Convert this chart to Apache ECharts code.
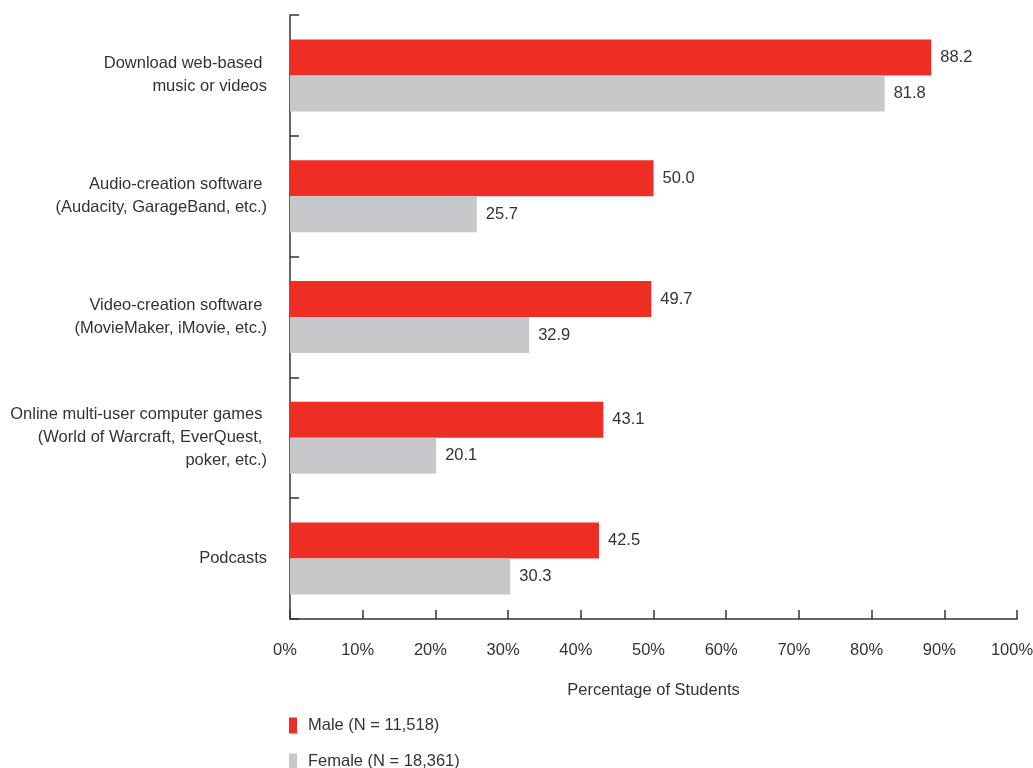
<!DOCTYPE html>
<html>
<head>
<meta charset="utf-8">
<title>Percentage of Students</title>
<script src="https://cdn.jsdelivr.net/npm/echarts@6/dist/echarts.min.js"></script>
<style>
  html, body { margin: 0; padding: 0; background: #fff; }
  #chart { width: 1033px; height: 768px; }
</style>
</head>
<body>
<div id="chart"></div>
<script>
// Activities, listed top to bottom
const categories = [
  'Download web-based \nmusic or videos',
  'Audio-creation software \n(Audacity, GarageBand, etc.)',
  'Video-creation software \n(MovieMaker, iMovie, etc.)',
  'Online multi-user computer games \n(World of Warcraft, EverQuest, \npoker, etc.)',
  'Podcasts'
];
const maleValues = [88.2, 50.0, 49.7, 43.1, 42.5];
const femaleValues = [81.8, 25.7, 32.9, 20.1, 30.3];
const seriesNames = ['Male (N = 11,518)', 'Female (N = 18,361)'];
const xTicks = [0, 10, 20, 30, 40, 50, 60, 70, 80, 90, 100];

const FONT = '"Liberation Sans Narrow", "Arial Narrow", "Liberation Sans", sans-serif';
const FS = 16.5;
const TEXT = '#333333';
const AXIS = '#333333';

const chart = echarts.init(document.getElementById('chart'), null, { renderer: 'canvas' });

const valueLabel = {
  show: true,
  position: 'right',
  distance: 9,
  color: TEXT,
  fontFamily: FONT,
  fontSize: FS,
  formatter: p => p.value.toFixed(1)
};

// one legend block per series, stacked below the axis title
const legendBlock = (name, top) => ({
  orient: 'vertical',
  left: 289,
  top: top,
  padding: 0,
  itemWidth: 8,
  itemHeight: 16,
  icon: 'rect',
  textStyle: { fontFamily: FONT, fontSize: FS, color: TEXT, padding: [0, 0, 0, 6] },
  data: [name]
});

chart.setOption({
  animation: false,
  textStyle: { fontFamily: FONT, color: TEXT },
  grid: { left: 290, right: 16, top: 15, bottom: 149, containLabel: false, outerBoundsMode: 'none' },
  legend: [
    legendBlock(seriesNames[0], 717),
    legendBlock(seriesNames[1], 753)
  ],
  xAxis: {
    type: 'value',
    min: xTicks[0],
    max: xTicks[xTicks.length - 1],
    interval: 10,
    name: 'Percentage of Students',
    nameLocation: 'middle',
    nameGap: 63,
    nameTextStyle: { fontFamily: FONT, fontSize: FS, color: TEXT },
    axisLine: { show: true, lineStyle: { color: AXIS, width: 1.5 } },
    axisTick: { show: true, inside: true, length: 9, lineStyle: { color: AXIS, width: 1.5 } },
    axisLabel: {
      color: TEXT, fontFamily: FONT, fontSize: FS, margin: 23,
      padding: [0, 10, 0, 0],
      formatter: v => v + '%'
    },
    splitLine: { show: false }
  },
  yAxis: {
    type: 'category',
    inverse: true,
    data: categories,
    axisLine: { show: true, lineStyle: { color: AXIS, width: 1.5 } },
    axisTick: { show: true, inside: true, length: 9, lineStyle: { color: AXIS, width: 1.5 } },
    axisLabel: {
      color: TEXT, fontFamily: FONT, fontSize: FS, lineHeight: 23, margin: 23, align: 'right'
    }
  },
  series: [
    {
      name: seriesNames[0],
      type: 'bar',
      data: maleValues,
      barWidth: 36,
      barGap: '0%',
      itemStyle: { color: '#EE2E24' },
      label: valueLabel
    },
    {
      name: seriesNames[1],
      type: 'bar',
      data: femaleValues,
      barWidth: 36,
      barGap: '0%',
      itemStyle: { color: '#C7C8CA' },
      label: valueLabel
    }
  ]
});
</script>
</body>
</html>
